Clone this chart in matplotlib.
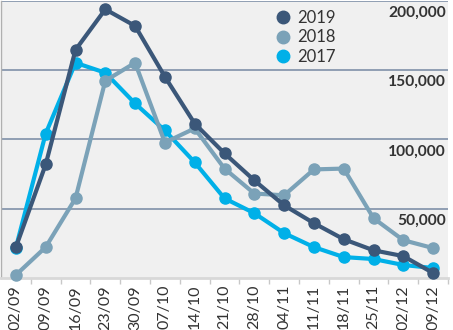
import matplotlib
matplotlib.use("Agg")
import matplotlib.pyplot as plt
from matplotlib.lines import Line2D
from matplotlib.ticker import FixedLocator, NullFormatter

plt.rcParams['font.family'] = ['Lato', 'DejaVu Sans']

weeks = ["02/09", "09/09", "16/09", "23/09", "30/09", "07/10", "14/10", "21/10",
         "28/10", "04/11", "11/11", "18/11", "25/11", "02/12", "09/12"]

y2019 = [22300, 82000, 164700, 194000, 182000, 145300, 111500, 90000,
         70500, 52500, 39600, 28000, 20000, 15800, 3600]
y2018 = [2200, 22300, 57500, 142400, 155400, 97800, 108000, 79000,
         61000, 59700, 78400, 79000, 43200, 27300, 21600]
y2017 = [22000, 104300, 155400, 148200, 126000, 106500, 83500, 57500,
         46800, 32400, 22300, 15100, 13700, 9400, 7200]

series = [("2017", y2017, "#00b0e8"),
          ("2018", y2018, "#7ba2b8"),
          ("2019", y2019, "#3b5779")]

grid_values = [50000, 100000, 150000, 200000]

W, H = 453, 330
fig = plt.figure(figsize=(W / 100, H / 100), dpi=100)
ax = fig.add_axes([1 / W, (H - 278) / H, 447 / W, 277 / H])
ax.set_facecolor("#f0f0f0")

x = list(range(len(weeks)))
for z, (name, vals, col) in enumerate(series):
    ax.plot(x, vals, color=col, lw=3.0, marker="o", ms=8, zorder=3 + z,
            solid_joinstyle="round", clip_on=False)

ax.set_xlim(-0.5, len(weeks) - 0.5)
ax.set_ylim(0, 200000)

for v in grid_values:
    ax.axhline(v, color="#8090a8", lw=1.2, zorder=1)
    ax.annotate(f"{v:,}", xy=(0.995, v), xycoords=("axes fraction", "data"),
                xytext=(0, -3.5), textcoords="offset points",
                ha="right", va="top", fontsize=11.2, fontweight="bold",
                color="#333333", zorder=10)

ax.set_yticks([])
ax.set_xticks(x)
ax.set_xticklabels(weeks, rotation=90, fontsize=11.5, color="#333333")
ax.tick_params(axis="x", which="major", length=0, pad=5)
ax.xaxis.set_minor_locator(FixedLocator([i - 0.5 for i in range(1, len(weeks) + 1)]))
ax.xaxis.set_minor_formatter(NullFormatter())
ax.tick_params(axis="x", which="minor", length=4, color="#c8c8c8", width=1)

for s in ["top", "right"]:
    ax.spines[s].set_visible(False)
ax.spines["left"].set_color("#b0b0b0")
ax.spines["left"].set_linewidth(1.0)
ax.spines["bottom"].set_color("#d8d8d8")
ax.spines["bottom"].set_linewidth(2.0)

handles = [Line2D([], [], ls="none", marker="o", ms=9, color=c, label=n)
           for n, _, c in reversed(series)]
ax.legend(handles=handles, loc="upper left", bbox_to_anchor=(266 / 447, 1.0),
          frameon=False, fontsize=12, handlelength=0.8, handletextpad=0.45,
          labelspacing=0.2, labelcolor="#333333", borderaxespad=0.15)

fig.savefig("out.png", dpi=100)
